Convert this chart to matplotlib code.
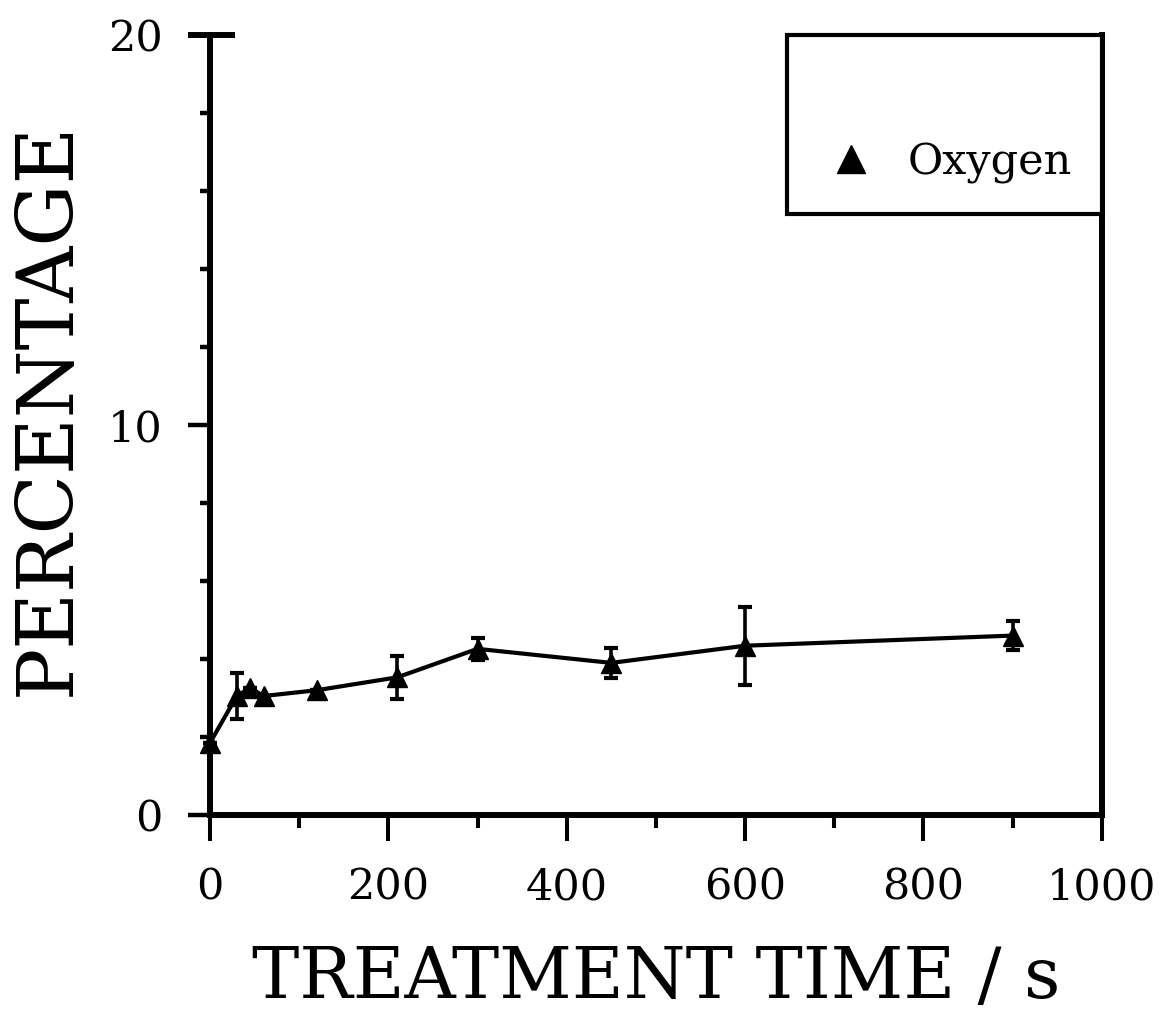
import matplotlib
matplotlib.use("Agg")
from matplotlib import pyplot as plt
from matplotlib.ticker import MultipleLocator
from matplotlib.lines import Line2D

# oxygen content vs treatment time
time_s = [0, 30, 45, 60, 120, 210, 300, 450, 600, 900]
oxygen = [1.85, 3.05, 3.26, 3.05, 3.2, 3.53, 4.26, 3.9, 4.34, 4.6]
oxygen_err = [0, 0.6, 0, 0, 0, 0.55, 0.28, 0.38, 1.0, 0.38]

plt.rcParams['font.family'] = ['DejaVu Serif']

fig = plt.figure(figsize=(11.61, 10.28), dpi=100)
ax = fig.add_axes([0.1809, 0.2072, 0.768, 0.7588])

ax.errorbar(time_s, oxygen, yerr=oxygen_err, color='black', lw=3.0,
            marker='^', ms=14, elinewidth=2.6, capsize=5, capthick=3,
            clip_on=False, zorder=3)

ax.set_xlim(0, 1000)
ax.set_ylim(0, 20)
ax.xaxis.set_major_locator(MultipleLocator(200))
ax.xaxis.set_minor_locator(MultipleLocator(100))
ax.yaxis.set_major_locator(MultipleLocator(10))
ax.yaxis.set_minor_locator(MultipleLocator(2))

for side in ['left', 'bottom', 'right']:
    ax.spines[side].set_linewidth(4.3)
ax.spines['top'].set_visible(False)

ax.tick_params(axis='x', which='major', direction='out', length=19, width=2.9, pad=18, labelsize=31)
ax.tick_params(axis='x', which='minor', direction='out', length=9.5, width=2.9)
ax.tick_params(axis='y', which='major', direction='out', length=16, width=3.2, pad=18, labelsize=31)
ax.tick_params(axis='y', which='minor', direction='out', length=7.5, width=3.2)
ax.tick_params(right=False, which='both')

# short stub of the frame at the top of the y axis
ax.plot([-0.025, 0.028], [1, 1], transform=ax.transAxes, color='black',
        lw=4.3, clip_on=False, solid_capstyle='butt')

ax.set_xlabel('TREATMENT TIME / s', fontsize=51, labelpad=26)
ax.set_ylabel('PERCENTAGE', fontsize=56)
ax.yaxis.set_label_coords(-0.139, 0.52)

handle = Line2D([], [], marker='^', ls='none', color='black', ms=20)
leg = ax.legend([handle], ['Oxygen'], loc='upper right', bbox_to_anchor=(1.0, 1.0),
                fontsize=31, title=' ', title_fontsize=40, frameon=True,
                fancybox=False, borderpad=0.7, handlelength=1.6,
                handletextpad=0.5, borderaxespad=0, framealpha=1)
leg.get_frame().set_edgecolor('black')
leg.get_frame().set_linewidth(3.0)

fig.savefig('out.png', dpi=100)
